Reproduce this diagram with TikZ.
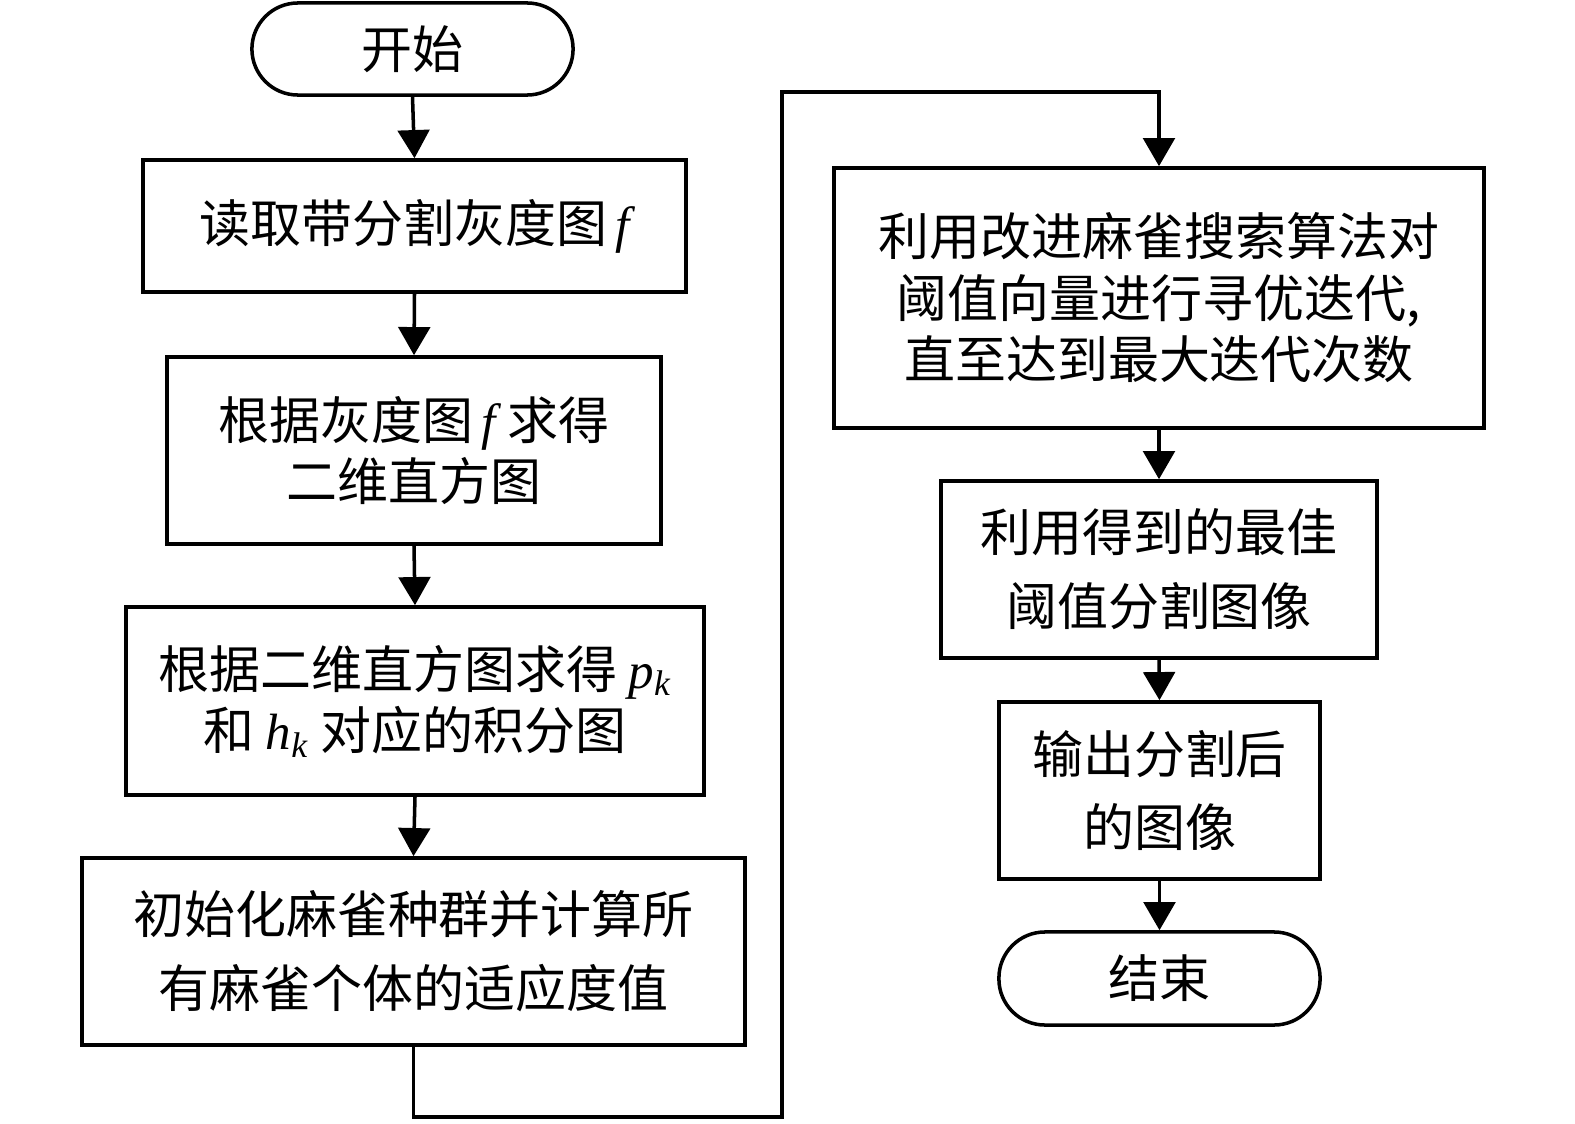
\documentclass[tikz,border=0pt]{standalone}
\usepackage{fontspec}
\setmainfont{Liberation Serif}
\newfontfamily\cjk{Noto Sans CJK SC}
\usetikzlibrary{arrows.meta}

\newcommand\vi[1]{{\rmfamily\itshape #1}}

\tikzset{
    box/.style={draw, line width=1pt, inner sep=0pt, align=center,
        font=\cjk\fontsize{14.5}{17.5}\selectfont},
    wide/.style={font=\cjk\fontsize{14.5}{21}\selectfont},
    term/.style={box, rounded corners=0.46cm},
    arr/.style={line width=1pt, -{Triangle[width=9pt,length=8pt]}}
}

\begin{document}
\begin{tikzpicture}[x=0.01cm, y=-0.01cm]
    \useasboundingbox (0,0) rectangle (1575,1124);
    % left column
    \node[term, minimum width=3.21cm, minimum height=0.92cm] (start) at (412.5,49) {开始};
    \node[box, minimum width=5.43cm, minimum height=1.32cm] (read) at (414.5,226) {读取带分割灰度图\,\vi{f}};
    \node[box, minimum width=4.94cm, minimum height=1.87cm] (hist) at (414,450.5) {根据灰度图\,\vi{f} 求得\\二维直方图};
    \node[box, minimum width=5.78cm, minimum height=1.88cm] (integ) at (415,701) {根据二维直方图求得 \vi{p}\textsubscript{\vi{k}}\\和 \vi{h}\textsubscript{\vi{k}} 对应的积分图};
    \node[box, wide, minimum width=6.63cm, minimum height=1.87cm] (init) at (413.5,951.5) {初始化麻雀种群并计算所\\有麻雀个体的适应度值};
    % right column
    \node[box, minimum width=6.50cm, minimum height=2.60cm] (search) at (1159,298) {利用改进麻雀搜索算法对\\阈值向量进行寻优迭代,\\直至达到最大迭代次数};
    \node[box, wide, minimum width=4.36cm, minimum height=1.77cm] (seg) at (1159,569.5) {利用得到的最佳\\阈值分割图像};
    \node[box, wide, minimum width=3.21cm, minimum height=1.77cm] (out) at (1159.5,790.5) {输出分割后\\的图像};
    \node[term, minimum width=3.21cm, minimum height=0.93cm] (stop) at (1159.5,978.5) {结束};

    \coordinate (loopA) at (782,1117);
    \coordinate (loopB) at (782,92);

    \draw[arr] (start.south) -- (read.north);
    \draw[arr] (read.south) -- (hist.north);
    \draw[arr] (hist.south) -- (integ.north);
    \draw[arr] (integ.south) -- (init.north);
    \draw[arr] (init.south) |- (loopA) -- (loopB) -| (search.north);
    \draw[arr] (search.south) -- (seg.north);
    \draw[arr] (seg.south) -- (out.north);
    \draw[arr] (out.south) -- (stop.north);
\end{tikzpicture}
\end{document}
